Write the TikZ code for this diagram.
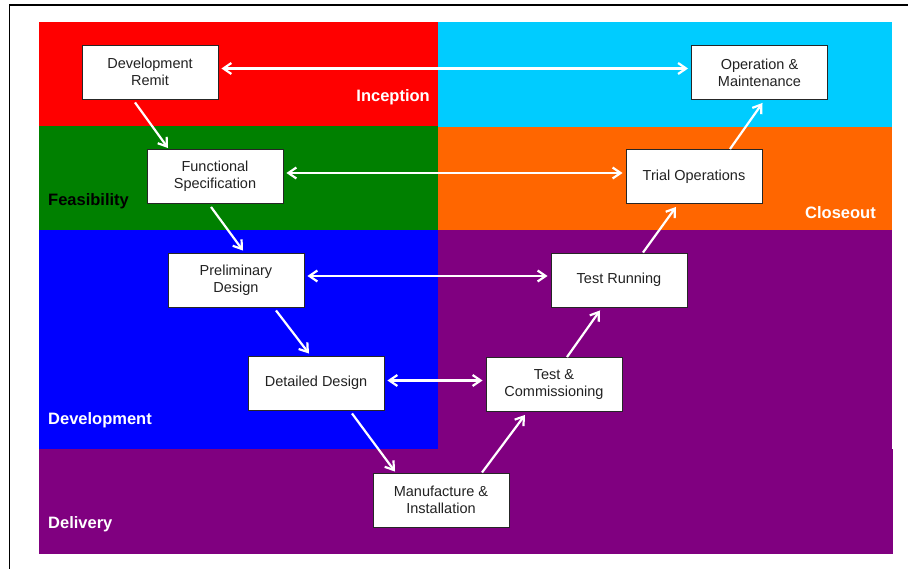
\documentclass[tikz,border=0pt]{standalone}
\usepackage{fontspec}
\setmainfont{Liberation Sans}
\usetikzlibrary{arrows.meta}

\definecolor{phRed}{HTML}{FF0000}
\definecolor{phCyan}{HTML}{00CCFF}
\definecolor{phGreen}{HTML}{008000}
\definecolor{phOrange}{HTML}{FF6600}
\definecolor{phBlue}{HTML}{0000FF}
\definecolor{phPurple}{HTML}{800080}
\definecolor{boxText}{HTML}{222222}

\tikzset{
  stage/.style={draw=black!85, line width=0.9pt, fill=white, minimum width=136pt,
    minimum height=54pt, inner sep=0pt, align=center, text=boxText,
    font=\fontsize{14.5}{17}\selectfont},
  phase/.style={inner sep=0pt, font=\fontsize{16.5}{18}\selectfont\bfseries, text=white},
  flow/.style={draw=white, line width=2.2pt,
    -{Straight Barb[length=8pt,width=11pt,line width=2.2pt]}},
  link/.style={draw=white, line width=2.2pt,
    {Straight Barb[length=8pt,width=11pt,line width=2.2pt]}-{Straight Barb[length=8pt,width=11pt,line width=2.2pt]},
    shorten <=3pt, shorten >=3pt}
}

\begin{document}
\begin{tikzpicture}[x=1pt,y=-1pt]
\useasboundingbox (0,0) rectangle (908,569);
\begin{scope}
\clip (0,0) rectangle (908,569);
\fill[white] (0,0) rectangle (908,569);
\draw[black, line width=1.6pt] (9.5,5) rectangle (930,600);

% phase bands
\fill[phRed]    (39,22)   rectangle (438,126);
\fill[phCyan]   (438,22)  rectangle (892,127);
\fill[phGreen]  (39,126)  rectangle (438,230);
\fill[phOrange] (438,127) rectangle (892,230);
\fill[phBlue]   (39,230)  rectangle (438,449);
\fill[phPurple] (438,230) rectangle (892,449);
\fill[phPurple] (39,449)  rectangle (893,553.5);
\end{scope}

% phase labels
\node[phase, anchor=east] (lInception) at (430,97) {Inception};
\node[phase, anchor=west, text=black] (lFeasibility) at (48,201) {Feasibility};
\node[phase, anchor=east] (lCloseout) at (876,213) {Closeout};
\node[phase, anchor=west] (lDevelopment) at (48,420.5) {Development};
\node[phase, anchor=west] (lDelivery) at (48,524.5) {Delivery};

% stages
\node[stage] (remit)    at (150,72)    {Development\\Remit};
\node[stage] (opmaint)  at (759.5,72.5){Operation \&\\Maintenance};
\node[stage] (funcspec) at (215,176.5) {Functional\\Specification};
\node[stage] (trialops) at (694,176.5) {Trial Operations};
\node[stage] (prelim)   at (236,280)   {Preliminary\\Design};
\node[stage] (testrun)  at (619,280)   {Test Running};
\node[stage] (detailed) at (316,383)   {Detailed Design};
\node[stage] (testcomm) at (554,384.5) {Test \&\\Commissioning};
\node[stage] (manuf)    at (441,500)   {Manufacture \&\\Installation};

% verification links across the V
\draw[link] ([yshift=3.5pt]remit.east)    -- ([yshift=3.5pt]remit.east -| opmaint.west);
\draw[link] ([yshift=3.5pt]funcspec.east) -- ([yshift=3.5pt]funcspec.east -| trialops.west);
\draw[link] ([yshift=4pt]prelim.east)     -- ([yshift=4pt]prelim.east -| testrun.west);
\draw[link] ([yshift=2.5pt]detailed.east) -- ([yshift=2.5pt]detailed.east -| testcomm.west);

% flow down the left leg
\draw[flow] ([xshift=-15pt,yshift=-3pt]remit.south)   -- ([xshift=-47pt,yshift=1pt]funcspec.north);
\draw[flow] ([xshift=-4pt,yshift=-3pt]funcspec.south) -- ([xshift=7pt,yshift=2pt]prelim.north);
\draw[flow] ([xshift=40pt,yshift=-3pt]prelim.south)   -- ([xshift=-7pt,yshift=2pt]detailed.north);
\draw[flow] ([xshift=36pt,yshift=-3pt]detailed.south) -- ([xshift=-46pt,yshift=1pt]manuf.north);
% flow up the right leg
\draw[flow] ([xshift=41pt]manuf.north)           -- ([xshift=-29pt,yshift=-3pt]testcomm.south);
\draw[flow] ([xshift=13pt]testcomm.north)        -- ([xshift=-19pt,yshift=-3pt]testrun.south);
\draw[flow] ([xshift=24pt]testrun.north)         -- ([xshift=-18pt,yshift=-3pt]trialops.south);
\draw[flow] ([xshift=36pt]trialops.north)        -- ([xshift=3pt,yshift=-3pt]opmaint.south);
\end{tikzpicture}
\end{document}
